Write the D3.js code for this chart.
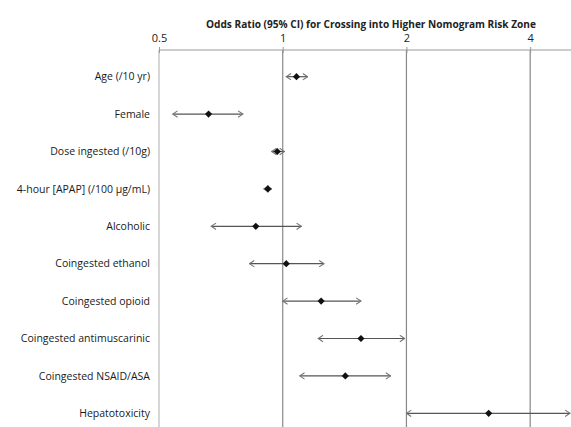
<!DOCTYPE html>
<html>
<head>
<meta charset="utf-8">
<script src="https://cdn.jsdelivr.net/npm/d3@7"></script>
<style>
    body { margin: 0; background: #fff; }
    text { font-family: "Open Sans", "Liberation Sans", sans-serif; fill: #222; }
</style>
</head>
<body>
<script>
// data (odds ratio with 95% CI)
var labels = ["Age (/10 yr)", "Female", "Dose ingested (/10g)", "4-hour [APAP] (/100 \u00b5g/mL)",
    "Alcoholic", "Coingested ethanol", "Coingested opioid", "Coingested antimuscarinic",
    "Coingested NSAID/ASA", "Hepatotoxicity"]
var oddsRatio = [1.08, 0.66, 0.97, 0.92, 0.86, 1.02, 1.24, 1.55, 1.42, 3.17]
var lowerCI = [1.02, 0.54, 0.94, 0.90, 0.67, 0.83, 1.00, 1.22, 1.10, 2.00]
var upperCI = [1.15, 0.80, 1.01, 0.94, 1.11, 1.26, 1.55, 1.98, 1.83, 5.00]
var tickValues = [0.5, 1, 2, 4]

var w = 571, h = 427;
var margin = { top: 50, left: 159 };

var svg = d3.select("body").append("svg")
    .attr("width", w)
    .attr("height", h);

var xScale = d3.scaleLog()
    .domain([0.5, 5])
    .range([margin.left, 570]);

var yScale = d3.scaleBand()
    .domain(labels)
    .range([58, 432]);

// arrowheads (open chevrons)
var defs = svg.append("defs");
defs.append("marker")
    .attr("id", "arrow")
    .attr("viewBox", "0 0 10 10")
    .attr("refX", 9).attr("refY", 5)
    .attr("markerWidth", 8).attr("markerHeight", 8)
    .attr("markerUnits", "userSpaceOnUse")
    .attr("orient", "auto-start-reverse")
    .append("path")
    .attr("d", "M3,1 L9,5 L3,9")
    .attr("fill", "none")
    .attr("stroke", "#777")
    .attr("stroke-width", 1.4);

// vertical reference lines
svg.selectAll(".grid")
    .data(tickValues)
    .enter().append("line")
    .attr("x1", function (d) { return xScale(d); })
    .attr("x2", function (d) { return xScale(d); })
    .attr("y1", margin.top)
    .attr("y2", h)
    .attr("stroke", function (d, i) { return i == 0 ? "#bbb" : "#888"; })
    .attr("stroke-width", 1.2);

// top axis
var xAxis = d3.axisTop(xScale)
    .tickValues(tickValues)
    .tickFormat(d3.format(""))
    .tickSizeInner(3)
    .tickSizeOuter(0)
    .tickPadding(4);

var axisG = svg.append("g")
    .attr("transform", "translate(0," + margin.top + ")")
    .call(xAxis);
axisG.select(".domain").attr("stroke", "#999").attr("d", "M" + margin.left + ",0H" + w);
axisG.selectAll(".tick line").attr("stroke", "#999").attr("y2", 3).attr("y1", -3);
axisG.selectAll(".tick text")
    .attr("y", -8)
    .style("font-size", "11px")
    .style("font-family", "'Open Sans', sans-serif")
    .attr("fill", "#222");

// axis title
svg.append("text")
    .attr("x", 371)
    .attr("y", 28)
    .style("text-anchor", "middle")
    .style("font-size", "10.1px")
    .style("font-weight", "bold")
    .text("Odds Ratio (95% CI) for Crossing into Higher Nomogram Risk Zone");

// row labels
svg.selectAll(".label")
    .data(labels)
    .enter().append("text")
    .attr("x", 150)
    .attr("y", function (d) { return yScale(d) + yScale.bandwidth() / 2; })
    .attr("dy", "0.35em")
    .style("text-anchor", "end")
    .style("font-size", "10.5px")
    .style("fill", "#1a1a1a")
    .text(function (d) { return d; });

// CI lines
svg.selectAll(".ci")
    .data(labels)
    .enter().append("line")
    .attr("x1", function (d, i) { return xScale(lowerCI[i]); })
    .attr("x2", function (d, i) { return xScale(upperCI[i]); })
    .attr("y1", function (d) { return yScale(d) + yScale.bandwidth() / 2; })
    .attr("y2", function (d) { return yScale(d) + yScale.bandwidth() / 2; })
    .attr("stroke", "#555")
    .attr("stroke-width", 1.2)
    .attr("marker-start", "url(#arrow)")
    .attr("marker-end", "url(#arrow)");

// point estimates (rotated squares)
svg.selectAll(".pt")
    .data(labels)
    .enter().append("path")
    .attr("d", d3.symbol().type(d3.symbolSquare).size(26))
    .attr("transform", function (d, i) {
        return "translate(" + xScale(oddsRatio[i]) + "," + (yScale(d) + yScale.bandwidth() / 2) + ") rotate(45)";
    })
    .attr("fill", "#111");
</script>
</body>
</html>
